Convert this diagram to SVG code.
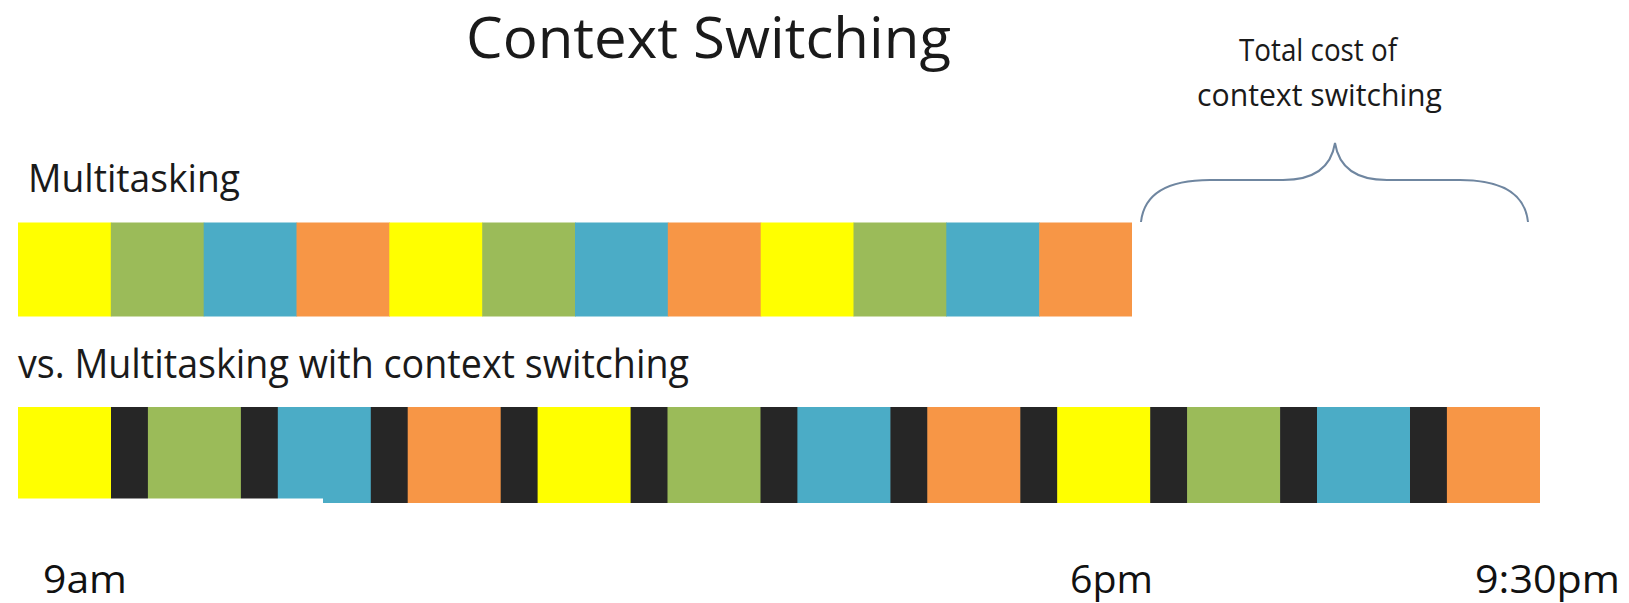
<svg xmlns="http://www.w3.org/2000/svg" width="1629" height="603" viewBox="0 0 1629 603">
<style>
.y{fill:#FFFF00}.g{fill:#9BBB59}.b{fill:#4BACC6}.o{fill:#F79646}.k{fill:#262626}
.t{font-family:"Open Sans","Liberation Sans",sans-serif;fill:#1a1a1a}
.tm{font-family:"Open Sans","Liberation Sans",sans-serif;fill:#111}
</style>
<rect width="1629" height="603" fill="#ffffff"/>
<g id="title"><text class="t" x="466" y="58" font-size="56" textLength="485" lengthAdjust="spacingAndGlyphs">Context Switching</text></g>
<g id="cost-label">
<text class="t" x="1239" y="61" font-size="31" textLength="158" lengthAdjust="spacingAndGlyphs">Total cost of</text>
<text class="t" x="1197" y="106" font-size="31" textLength="245" lengthAdjust="spacingAndGlyphs">context switching</text>
</g>
<g id="brace"><path d="M1141,222 C1144,194 1168,180 1210,180 L1283,180 C1314,180 1331,168 1335,143 C1339,168 1356,180 1387,180 L1460,180 C1502,180 1525,194 1528,222" fill="none" stroke="#6f86a0" stroke-width="2"/></g>
<g id="label-multitasking"><text class="t" x="28" y="192" font-size="38" textLength="212" lengthAdjust="spacingAndGlyphs">Multitasking</text></g>
<g id="row-multitasking">
<rect class="y" x="18" y="222.5" width="93.5" height="94"/>
<rect class="g" x="110.8" y="222.5" width="93.5" height="94"/>
<rect class="b" x="203.7" y="222.5" width="93.5" height="94"/>
<rect class="o" x="296.5" y="222.5" width="93.5" height="94"/>
<rect class="y" x="389.3" y="222.5" width="93.5" height="94"/>
<rect class="g" x="482.2" y="222.5" width="93.5" height="94"/>
<rect class="b" x="575" y="222.5" width="93.5" height="94"/>
<rect class="o" x="667.8" y="222.5" width="93.5" height="94"/>
<rect class="y" x="760.7" y="222.5" width="93.5" height="94"/>
<rect class="g" x="853.5" y="222.5" width="93.5" height="94"/>
<rect class="b" x="946.3" y="222.5" width="93.5" height="94"/>
<rect class="o" x="1039.2" y="222.5" width="92.8" height="94"/>
</g>
<g id="label-switching"><text class="t" x="18" y="378" font-size="40" textLength="671" lengthAdjust="spacingAndGlyphs">vs. Multitasking with context switching</text></g>
<g id="row-switching">
<rect class="y" x="18" y="407" width="93.5" height="96"/>
<rect class="k" x="111" y="407" width="37.5" height="96"/>
<rect class="g" x="147.9" y="407" width="93.5" height="96"/>
<rect class="k" x="240.9" y="407" width="37.5" height="96"/>
<rect class="b" x="277.8" y="407" width="93.5" height="96"/>
<rect class="k" x="370.8" y="407" width="37.5" height="96"/>
<rect class="o" x="407.7" y="407" width="93.5" height="96"/>
<rect class="k" x="500.7" y="407" width="37.5" height="96"/>
<rect class="y" x="537.6" y="407" width="93.5" height="96"/>
<rect class="k" x="630.6" y="407" width="37.5" height="96"/>
<rect class="g" x="667.5" y="407" width="93.5" height="96"/>
<rect class="k" x="760.5" y="407" width="37.5" height="96"/>
<rect class="b" x="797.4" y="407" width="93.5" height="96"/>
<rect class="k" x="890.4" y="407" width="37.5" height="96"/>
<rect class="o" x="927.3" y="407" width="93.5" height="96"/>
<rect class="k" x="1020.3" y="407" width="37.5" height="96"/>
<rect class="y" x="1057.2" y="407" width="93.5" height="96"/>
<rect class="k" x="1150.2" y="407" width="37.5" height="96"/>
<rect class="g" x="1187.1" y="407" width="93.5" height="96"/>
<rect class="k" x="1280.1" y="407" width="37.5" height="96"/>
<rect class="b" x="1317" y="407" width="93.5" height="96"/>
<rect class="k" x="1410" y="407" width="37.5" height="96"/>
<rect class="o" x="1446.9" y="407" width="93.1" height="96"/>
<rect x="0" y="498.5" width="323" height="6" fill="#ffffff"/>
</g>
<g id="time-labels">
<text class="tm" x="43" y="593" font-size="38" textLength="84" lengthAdjust="spacingAndGlyphs">9am</text>
<text class="tm" x="1070" y="593" font-size="38" textLength="83" lengthAdjust="spacingAndGlyphs">6pm</text>
<text class="tm" x="1475" y="593" font-size="38" textLength="145" lengthAdjust="spacingAndGlyphs">9:30pm</text>
</g>
</svg>
